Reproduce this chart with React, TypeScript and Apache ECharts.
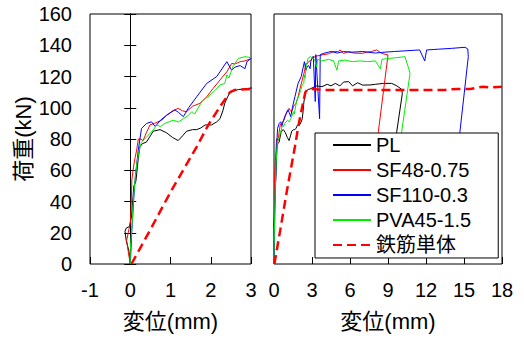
import React, { useEffect, useRef } from "react";
import * as echarts from "echarts";

type Pt = [number, number];

const seriesNames = ["PL", "SF48-0.75", "SF110-0.3", "PVA45-1.5", "鉄筋単体"];

const PL: Pt[] = [
  [0, 0], [-0.03, 8], [-0.1, 15], [-0.13, 21], [-0.1, 23], [-0.02, 24], [0.03, 30], [0.06, 40],
  [0.09, 50], [0.14, 53], [0.17, 60], [0.2, 68], [0.24, 75], [0.3, 77], [0.4, 78], [0.5, 82],
  [0.57, 85], [0.74, 86], [0.9, 84], [1.05, 81], [1.19, 79], [1.3, 82], [1.4, 85], [1.55, 86],
  [1.65, 86], [1.75, 87], [1.86, 89], [2.02, 89], [2.15, 91], [2.23, 93], [2.3, 98], [2.35, 103],
  [2.42, 107], [2.48, 110], [2.6, 111], [2.69, 111.7], [2.85, 112], [3.0, 112.6],
  [3.3, 114], [3.79, 113.5], [4.2, 115], [4.5, 114], [4.84, 115.6], [5.2, 114], [5.5, 116.5],
  [5.9, 116.7], [6.2, 114], [6.6, 116], [7.0, 114.5], [7.58, 114.6], [8.0, 115], [8.63, 115.6],
  [9.29, 115.6], [9.7, 114], [10.08, 111.8], [10.13, 109], [9.69, 84.7], [9.3, 60], [9.0, 40],
];

const SF48: Pt[] = [
  [0, 0], [-0.05, 8], [-0.09, 15], [-0.05, 20], [0, 26], [0.02, 35], [0.04, 54], [0.08, 62],
  [0.12, 68], [0.16, 73], [0.2, 80], [0.26, 80], [0.32, 79], [0.4, 84], [0.49, 89], [0.6, 90],
  [0.78, 92], [0.9, 95], [1.05, 98], [1.19, 99.6], [1.3, 98], [1.4, 97.5], [1.55, 101],
  [1.73, 102.8], [1.9, 107], [2.06, 112.4], [2.23, 117.8], [2.4, 123], [2.52, 128.4], [2.6, 128],
  [2.73, 129.5], [2.85, 130], [3.02, 131.6],
  [3.3, 133], [3.79, 133.8], [4.3, 134.5], [4.7, 136], [5.1, 135.9], [5.2, 137], [5.5, 134.8],
  [5.9, 136], [6.3, 135], [6.95, 134.8], [7.3, 135.5], [7.7, 136], [8.1, 137], [8.5, 134.8],
  [9.0, 133.8], [8.24, 84.7], [7.9, 60],
];

const SF110: Pt[] = [
  [0, 0], [0.02, 10], [0.04, 22], [0.06, 30], [0.08, 39], [0.12, 54], [0.16, 64], [0.2, 73],
  [0.24, 80], [0.28, 86.8], [0.41, 90], [0.53, 91], [0.62, 88], [0.75, 92], [0.91, 95.4],
  [1.11, 98.6], [1.2, 97], [1.32, 94.3], [1.45, 100], [1.65, 107], [1.9, 115.6], [2.15, 120],
  [2.4, 129.5], [2.52, 124], [2.6, 126], [2.73, 127], [2.85, 125], [2.9, 129.5], [3.0, 131.6],
  [3.1, 133], [3.26, 104], [3.3, 134], [3.6, 93], [3.65, 134], [4.0, 135], [4.5, 136], [5.0, 135],
  [5.5, 136], [6.0, 135.5], [7.0, 136], [8.0, 135], [8.6, 135.5], [9.5, 136], [10.5, 136.5],
  [11.5, 137], [11.9, 130], [12.05, 137], [13, 137.5], [14, 138], [15.08, 138.7], [15.3, 137.6],
  [15.34, 132.7], [14.68, 84.7], [14.4, 60],
];

const PVA45: Pt[] = [
  [0, 0], [0, 9], [0.03, 20], [0.06, 32], [0.08, 42], [0.12, 54], [0.16, 64], [0.24, 75],
  [0.28, 78], [0.33, 79.4], [0.4, 81], [0.49, 83.6], [0.57, 85.8], [0.66, 89], [0.75, 88],
  [0.86, 90], [1.07, 92], [1.2, 91], [1.32, 93], [1.44, 95], [1.53, 97.5], [1.6, 96], [1.78, 104],
  [1.98, 108], [2.1, 111], [2.23, 114.6], [2.35, 115.6], [2.4, 121], [2.45, 119], [2.56, 127],
  [2.69, 131.6], [2.85, 132.7], [3.0, 132],
  [3.2, 131], [3.37, 126], [3.45, 131], [3.8, 130], [4.3, 131], [4.7, 130], [4.97, 124], [5.1, 130],
  [5.6, 130.5], [6.2, 129.5], [6.8, 130], [7.4, 129.5], [8.0, 130], [8.4, 125], [8.53, 131],
  [9.0, 131.5], [9.6, 132], [10.34, 132.7], [10.6, 126], [10.74, 122], [10.08, 84.7], [9.8, 60],
];

const REBAR: Pt[] = [
  [0.03, 0], [0.5, 22], [1.0, 46], [1.65, 75], [1.94, 89], [2.23, 100.7], [2.48, 110],
  [2.6, 111.4], [3.0, 112], [4, 111.4], [6, 111.4], [8, 111.4], [10, 111.4], [12, 111.4],
  [13.5, 111.4], [13.9, 111.8], [14.5, 112], [15.5, 112], [16.5, 113.5], [17, 113], [18, 113.5],
];

const yTicks = { min: 0, max: 160, interval: 20 };
const xLeft = { min: -1, max: 3, interval: 1 };
const xRight = { min: 0, max: 18, interval: 3 };

const FONT = "'Liberation Sans', 'Noto Sans CJK JP', sans-serif";

export default function App() {
  const ref = useRef<HTMLDivElement>(null);
  useEffect(() => {
    if (!ref.current) return;
    const chart = echarts.init(ref.current, undefined, { renderer: "svg" });
    const datas = [PL, SF48, SF110, PVA45, REBAR];
    const styles = [
      { color: "#000000", width: 1, type: "solid" },
      { color: "#ff0000", width: 1, type: "solid" },
      { color: "#0000ff", width: 1, type: "solid" },
      { color: "#00ee00", width: 1, type: "solid" },
      { color: "#ff0000", width: 2.5, type: [9, 5] },
    ];
    const series: any[] = [];
    for (let g = 0; g < 2; g++) {
      datas.forEach((d, i) => {
        series.push({
          type: "line",
          name: seriesNames[i],
          data: d,
          xAxisIndex: g,
          yAxisIndex: g === 0 ? 0 : 3,
          symbol: "none",
          clip: true,
          color: styles[i].color,
          lineStyle: { color: styles[i].color, width: styles[i].width, type: styles[i].type },
          z: 2,
        });
      });
    }
    const tickLabel = { color: "#000", fontSize: 20, fontFamily: FONT };
    const nameStyle = { color: "#000", fontSize: 22, fontFamily: FONT };
    chart.setOption({
      animation: false,
      textStyle: { fontFamily: FONT },
      grid: [
        { left: 90, right: 273, top: 14, bottom: 77, show: true, borderColor: "#000", borderWidth: 1, backgroundColor: "transparent" },
        { left: 274, right: 22, top: 14, bottom: 77, show: true, borderColor: "#000", borderWidth: 1, backgroundColor: "transparent" },
      ],
      xAxis: [
        {
          type: "value", gridIndex: 0, ...xLeft,
          axisLine: { show: false, onZero: false },
          axisTick: { show: true, inside: true, length: 7, lineStyle: { color: "#000" } },
          axisLabel: { ...tickLabel, margin: 16 },
          splitLine: { show: false },
          name: "変位(mm)", nameLocation: "middle", nameGap: 46, nameTextStyle: nameStyle,
        },
        {
          type: "value", gridIndex: 1, ...xRight,
          axisLine: { show: false, onZero: false },
          axisTick: { show: true, inside: true, length: 7, lineStyle: { color: "#000" } },
          axisLabel: { ...tickLabel, margin: 16 },
          splitLine: { show: false },
          name: "変位(mm)", nameLocation: "middle", nameGap: 46, nameTextStyle: nameStyle,
        },
      ],
      yAxis: [
        {
          type: "value", gridIndex: 0, ...yTicks, position: "left",
          axisLine: { show: false, onZero: false },
          axisTick: { show: false },
          axisLabel: { ...tickLabel, margin: 18 },
          splitLine: { show: false },
          name: "荷重(kN)", nameLocation: "middle", nameGap: 56, nameTextStyle: nameStyle,
        },
        {
          type: "value", gridIndex: 0, ...yTicks, position: "left",
          axisLine: { show: true, onZero: true, onZeroAxisIndex: 0, lineStyle: { color: "#000", width: 1 } },
          axisTick: { show: true, inside: true, length: 6, lineStyle: { color: "#000" } },
          axisLabel: { show: false },
          splitLine: { show: false },
        },
        {
          type: "value", gridIndex: 0, ...yTicks, position: "left",
          axisLine: { show: true, onZero: true, onZeroAxisIndex: 0, lineStyle: { color: "#000", width: 1 } },
          axisTick: { show: true, inside: false, length: 6, lineStyle: { color: "#000" } },
          axisLabel: { show: false },
          splitLine: { show: false },
        },
        {
          type: "value", gridIndex: 1, ...yTicks, position: "left",
          axisLine: { show: false, onZero: false },
          axisTick: { show: false },
          axisLabel: { show: false },
          splitLine: { show: false },
        },
      ],
      legend: {
        data: seriesNames,
        orient: "vertical",
        left: 315,
        top: 133,
        padding: [2, 27, 3, 17],
        itemGap: 5,
        itemWidth: 38,
        itemHeight: 14,
        backgroundColor: "#fff",
        borderColor: "#000",
        borderWidth: 1,
        borderRadius: 0,
        itemStyle: { opacity: 0 },
        textStyle: { color: "#000", fontSize: 20, fontFamily: FONT },
        selectedMode: false,
        z: 10,
      },
      series,
    });
    return () => chart.dispose();
  }, []);
  return <div ref={ref} style={{ width: 524, height: 341, position: "absolute", left: 0, top: 0 }} />;
}
